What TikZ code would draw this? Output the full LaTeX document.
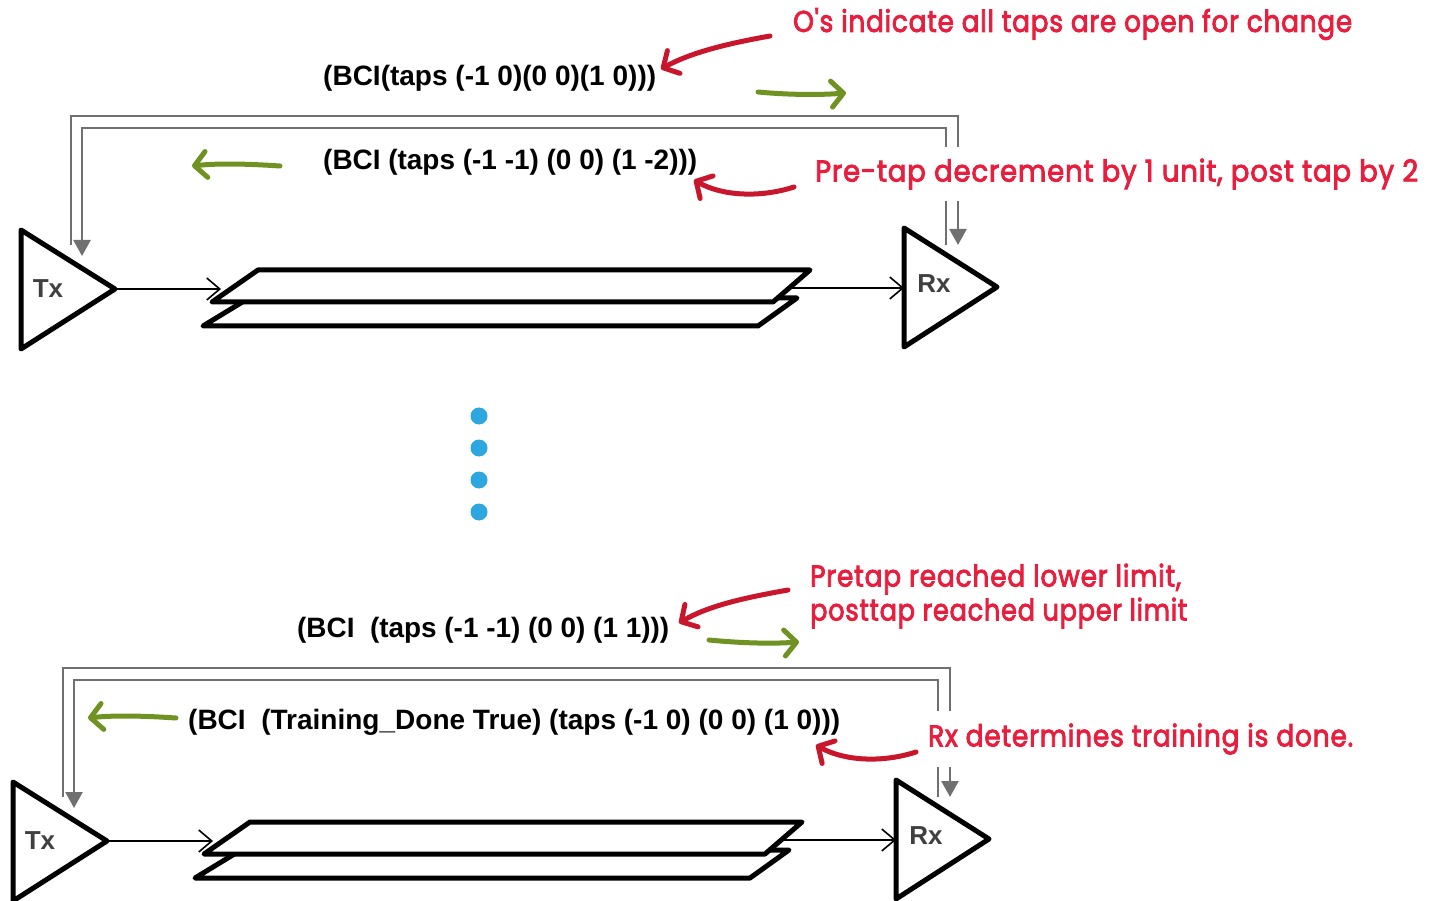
\documentclass[tikz,border=0pt]{standalone}
\usepackage{fontspec}
\setmainfont{Liberation Sans}
\newfontfamily\handfont{Poppins}[FakeBold=3,LetterSpace=3]
\usetikzlibrary{arrows.meta}
\definecolor{fbgray}{RGB}{112,112,112}
\definecolor{notered}{RGB}{232,30,62}
\definecolor{brushred}{RGB}{200,22,44}
\definecolor{brushgreen}{RGB}{112,146,34}
\definecolor{dotblue}{RGB}{46,166,224}
\definecolor{labgray}{RGB}{64,64,64}
\newcommand\fitw[2]{\resizebox{#1pt}{\height}{#2}}
\tikzset{
  blk/.style={draw=black,line width=5pt,line join=round,fill=white},
  sig/.style={line width=1.6pt,-{Straight Barb[length=13pt,width=22pt]}},
  fb/.style={draw=fbgray,line width=2.6pt},
  fbarrow/.style={fb,-{Triangle[length=16pt,width=17pt]}},
  code/.style={font=\bfseries\fontsize{28}{32}\selectfont,inner sep=0pt,anchor=west},
  note/.style={font=\handfont\fontsize{30}{36}\selectfont,text=notered,inner sep=0pt,anchor=west},
  rxtx/.style={font=\bfseries\fontsize{26}{30}\selectfont,text=labgray,inner sep=0pt},
  brush/.style={line width=5pt,line cap=round,-{Straight Barb[round,length=12pt,width=26pt]}},
  redbrush/.style={brush,draw=brushred},
  greenbrush/.style={brush,draw=brushgreen},
  dotstyle/.style={fill=dotblue,draw=none,circle,minimum size=17pt,inner sep=0pt},
}
\newcommand\linkblock[1]{%
  % Tx
  \coordinate (#1txa) at (21,230);
  \coordinate (#1txb) at (21,349);
  \coordinate (#1txc) at (115,289);
  \draw[blk] (#1txa) -- (#1txc) -- (#1txb) -- cycle;
  \node[rxtx] (#1txl) at (48,289) {Tx};
  % Rx
  \coordinate (#1rxa) at (904,228);
  \coordinate (#1rxb) at (904,347);
  \coordinate (#1rxc) at (997,287);
  \draw[blk] (#1rxa) -- (#1rxc) -- (#1rxb) -- cycle;
  \node[rxtx] (#1rxl) at (934,284) {Rx};
  % channel
  \coordinate (#1cbtl) at (249,298);
  \coordinate (#1cbtr) at (797,298);
  \coordinate (#1cbbr) at (758,326);
  \coordinate (#1cbbl) at (203,326);
  \draw[blk] (#1cbtl) -- (#1cbtr) -- (#1cbbr) -- (#1cbbl) -- cycle;
  \coordinate (#1cttl) at (258,270);
  \coordinate (#1cttr) at (810,270);
  \coordinate (#1ctbr) at (773,302);
  \coordinate (#1ctbl) at (212,302);
  \draw[blk] (#1cttl) -- (#1cttr) -- (#1ctbr) -- (#1ctbl) -- cycle;
  % signal
  \coordinate (#1sin) at (221,289);
  \draw[sig] (#1txc) -- (#1sin);
  \coordinate (#1sout) at (786,288);
  \coordinate (#1rxin) at (904,288);
  \draw[sig] (#1sout) -- (#1rxin);
  % feedback lines
  \coordinate (#1oa) at (71,245);
  \coordinate (#1ob) at (71,116);
  \coordinate (#1oc) at (958,116);
  \coordinate (#1od) at (958,245);
  \draw[fbarrow] (#1oa) -- (#1ob) -- (#1oc) -- (#1od);
  \coordinate (#1ia) at (946,245);
  \coordinate (#1ib) at (946,128);
  \coordinate (#1ic) at (82,128);
  \coordinate (#1id) at (82,256);
  \draw[fbarrow] (#1ia) -- (#1ib) -- (#1ic) -- (#1id);
}
\begin{document}
\begin{tikzpicture}[x=1pt,y=-1pt]
\useasboundingbox[fill=white] (0,0) rectangle (1436,901);
% ---------- top link ----------
\linkblock{t}
\node[code] (t1) at (323,78) {\fitw{333}{(BCI(taps (-1 0)(0 0)(1 0)))}};
\node[code] (t2) at (323,162) {\fitw{374}{(BCI (taps (-1 -1) (0 0) (1 -2)))}};
\node[note] (n1) at (793,24) {\fitw{559}{O's indicate all taps are open for change}};
\node[note,fill=white,inner ysep=12pt,inner xsep=4pt] (n2) at (811,174) {\fitw{603}{Pre-tap decrement by 1 unit, post tap by 2}};
\coordinate (ra1) at (770,36);  \coordinate (rb1) at (661,69);
\draw[redbrush] (ra1) .. controls (725,44) and (690,53) .. (rb1);
\coordinate (ga1) at (758,92);  \coordinate (gb1) at (846,93);
\draw[greenbrush] (ga1) .. controls (790,95) and (820,95) .. (gb1);
\coordinate (ra2) at (794,187); \coordinate (rb2) at (694,180);
\draw[redbrush] (ra2) .. controls (760,198) and (722,196) .. (rb2);
\coordinate (ga2) at (280,166); \coordinate (gb2) at (192,166);
\draw[greenbrush] (ga2) .. controls (250,164) and (220,163) .. (gb2);
% ---------- dots ----------
\node[dotstyle] (dot1) at (479,416) {};
\node[dotstyle] (dot2) at (479,448) {};
\node[dotstyle] (dot3) at (479,480) {};
\node[dotstyle] (dot4) at (479,512) {};
% ---------- bottom link ----------
\begin{scope}[shift={(-8,552)}]
\linkblock{b}
\end{scope}
\node[code] (b1) at (297,630) {\fitw{372}{(BCI\ \ (taps (-1 -1) (0 0) (1 1)))}};
\node[code] (b2) at (188,722) {\fitw{652}{(BCI\ \ (Training\_Done True) (taps (-1 0) (0 0) (1 0)))}};
\node[note] (n3) at (810,579) {\fitw{371}{Pretap reached lower limit,}};
\node[note] (n4) at (810,613) {\fitw{377}{posttap reached upper limit}};
\node[note,fill=white,inner ysep=13pt,inner xsep=4pt] (n5) at (924,739) {\fitw{425}{Rx determines training is done.}};
\coordinate (ra3) at (788,590); \coordinate (rb3) at (679,623);
\draw[redbrush] (ra3) .. controls (743,598) and (708,606) .. (rb3);
\coordinate (ga3) at (709,640); \coordinate (gb3) at (799,642);
\draw[greenbrush] (ga3) .. controls (740,643) and (770,644) .. (gb3);
\coordinate (ra4) at (916,752); \coordinate (rb4) at (816,745);
\draw[redbrush] (ra4) .. controls (882,763) and (844,761) .. (rb4);
\coordinate (ga4) at (176,718); \coordinate (gb4) at (88,718);
\draw[greenbrush] (ga4) .. controls (146,716) and (116,715) .. (gb4);
\end{tikzpicture}
\end{document}
